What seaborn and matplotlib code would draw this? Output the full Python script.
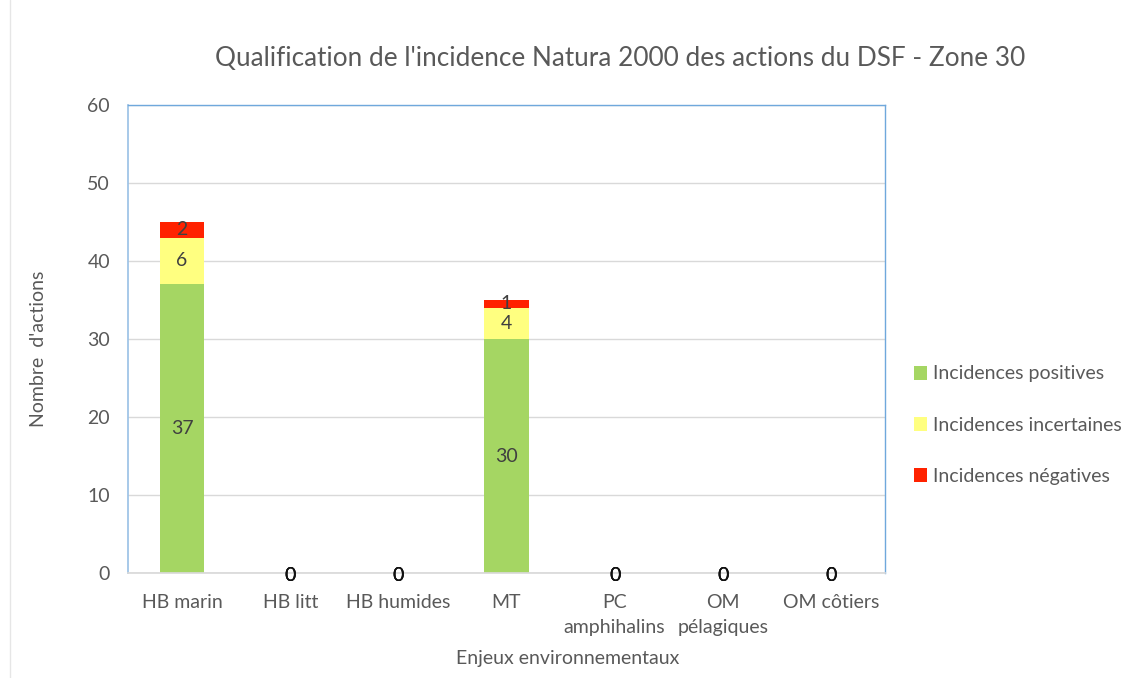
import numpy as np
import pandas as pd
import matplotlib.pyplot as plt
import seaborn as sns
from matplotlib.lines import Line2D
from matplotlib.patches import Patch

categories = ["HB marin", "HB litt", "HB humides", "MT", "PC\namphihalins", "OM\npélagiques", "OM côtiers"]
positives = [37, 0, 0, 30, 0, 0, 0]
incertaines = [6, 0, 0, 4, 0, 0, 0]
negatives = [2, 0, 0, 1, 0, 0, 0]
series_names = ["Incidences positives", "Incidences incertaines", "Incidences négatives"]
colors = ["#A5D663", "#FFFF80", "#FF2200"]
y_ticks = [0, 10, 20, 30, 40, 50, 60]

TEXT = "#595959"

sns.set_theme(style="white")
plt.rcParams["font.family"] = ["Lato", "DejaVu Sans"]

df = pd.DataFrame({
    "cat": categories,
    "pos": positives,
    "inc": incertaines,
    "neg": negatives,
})
df["pos_inc"] = df["pos"] + df["inc"]
df["total"] = df["pos_inc"] + df["neg"]

fig = plt.figure(figsize=(11.48, 6.78), dpi=100)
ax = fig.add_axes([128 / 1148, 105 / 678, (885 - 128) / 1148, (573 - 105) / 678])

# stacked by overlaying cumulative totals
for col, c in zip(["total", "pos_inc", "pos"], colors[::-1]):
    sns.barplot(data=df, x="cat", y=col, color=c, width=0.41, saturation=1,
                ax=ax, edgecolor="none", linewidth=0)

ax.set_ylim(0, 60)
ax.set_xlim(-0.5, len(categories) - 0.5)
ax.set_yticks(y_ticks)
ax.yaxis.grid(True, color="#D9D9D9", linewidth=1)
ax.set_axisbelow(True)
ax.tick_params(axis="both", length=0, labelsize=14, labelcolor=TEXT)
ax.tick_params(axis="y", pad=13)
ax.tick_params(axis="x", pad=15)
for lbl in ax.get_xticklabels():
    lbl.set_linespacing(1.6)

for s in ["top", "right"]:
    ax.spines[s].set_color("#6FA8DC")
    ax.spines[s].set_linewidth(1)
ax.spines["left"].set_color("#9DC3E6")
ax.spines["bottom"].set_color("#D9D9D9")

# segment labels
for i in range(len(categories)):
    bottoms = [0, positives[i], positives[i] + incertaines[i]]
    vals = [positives[i], incertaines[i], negatives[i]]
    for b, v in zip(bottoms, vals):
        if v == 0:
            ax.text(i, b - 0.3, "0", ha="center", va="center", fontsize=14,
                    color="#111111")
        else:
            ax.text(i, b + v / 2, str(v), ha="center", va="center",
                    fontsize=14, color="#404040")

ax.set_xlabel("Enjeux environnementaux", fontsize=14, color=TEXT)
ax.xaxis.set_label_coords((568 - 128) / 757, -0.165)
ax.set_ylabel("Nombre  d'actions", fontsize=14, color=TEXT)
ax.yaxis.set_label_coords(-(128 - 47) / 757, 0.48)

fig.text(620 / 1148, 1 - 58 / 678,
         "Qualification de l'incidence Natura 2000 des actions du DSF - Zone 30",
         ha="center", va="center", fontsize=18.8, color=TEXT)

handles = [Patch(facecolor=c, edgecolor="none") for c in colors]
fig.legend(handles, series_names, loc="upper left",
           bbox_to_anchor=(896 / 1148, 1 - 348 / 678), frameon=False,
           fontsize=14, labelcolor=TEXT, handlelength=0.7, handleheight=0.7,
           handletextpad=0.3, labelspacing=1.75)

fig.add_artist(Line2D([10 / 1148, 10 / 1148], [0, 1], color="#E6E6E6", linewidth=1))

fig.savefig("out.png", dpi=100, facecolor="white")
